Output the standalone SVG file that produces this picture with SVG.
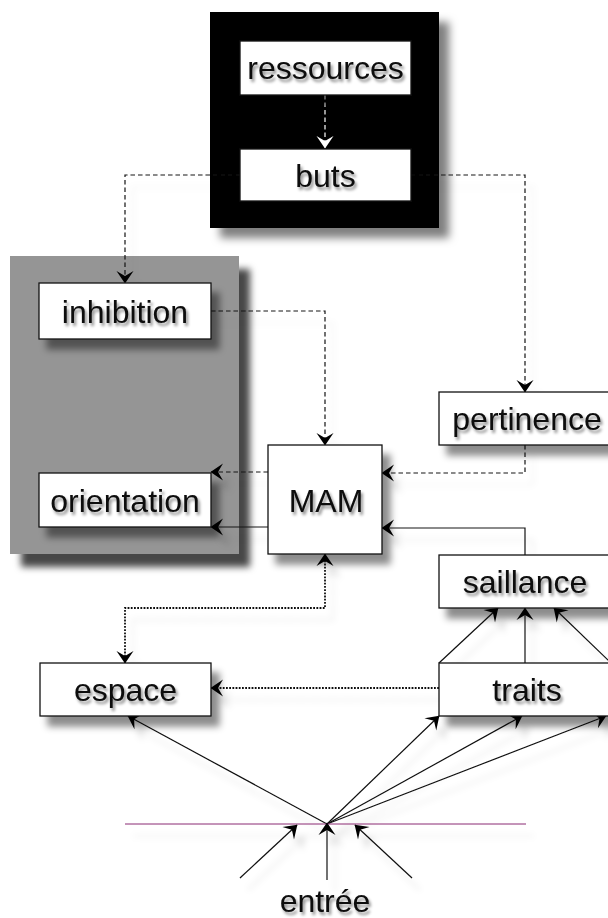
<svg xmlns="http://www.w3.org/2000/svg" width="608" height="918" viewBox="0 0 608 918">
<defs>
<style>
.box{fill:#fff;stroke:#111;stroke-width:1.3;filter:url(#sh)}
.lbl{font-family:"Liberation Sans",Arial,sans-serif;font-size:32px;fill:#0a0a0a;text-anchor:middle;filter:url(#tsh)}
.c{fill:none;stroke:#111;stroke-width:1.2}
.dash{stroke-dasharray:4.5 3}
.dot{stroke-dasharray:1.8 1.4;stroke-width:1.8}
</style>
<filter id="sh" x="-20%" y="-20%" width="150%" height="160%">
<feDropShadow dx="8" dy="10" stdDeviation="3.5" flood-color="#000" flood-opacity="0.45"/>
</filter>
<filter id="csh" x="-20%" y="-20%" width="150%" height="150%">
<feDropShadow dx="10" dy="10" stdDeviation="4" flood-color="#000" flood-opacity="0.5"/>
</filter>
<filter id="gsh" x="-20%" y="-20%" width="150%" height="150%">
<feDropShadow dx="11" dy="13" stdDeviation="3.5" flood-color="#000" flood-opacity="0.72"/>
</filter>
<filter id="lsh" x="-10%" y="-10%" width="130%" height="130%">
<feDropShadow dx="8" dy="12" stdDeviation="3" flood-color="#000" flood-opacity="0.12"/>
</filter>
<filter id="tsh" x="-10%" y="-20%" width="130%" height="160%">
<feDropShadow dx="2" dy="3" stdDeviation="1.5" flood-color="#000" flood-opacity="0.45"/>
</filter>
<marker id="ah" viewBox="-14 -10 15 20" refX="0" refY="0" markerWidth="15" markerHeight="20" markerUnits="userSpaceOnUse" orient="auto-start-reverse">
<path d="M0.5,0 L-12,-8.5 L-7,0 L-12,8.5 Z" fill="#000"/>
</marker>
<marker id="ahw" viewBox="-14 -10 15 20" refX="0" refY="0" markerWidth="15" markerHeight="20" markerUnits="userSpaceOnUse" orient="auto">
<path d="M0.5,0 L-12,-8.5 L-7,0 L-12,8.5 Z" fill="#fff"/>
</marker>
</defs>
<rect width="608" height="918" fill="#fff"/>
<g id="container-top">
<rect x="210" y="12" width="229" height="216" fill="#000" filter="url(#csh)"/>
</g>
<g id="container-left">
<rect x="10" y="256" width="229" height="298" fill="#959595" filter="url(#gsh)"/>
</g>
<g id="connectors" filter="url(#lsh)">
<path class="c dash" d="M325,95 V148" style="stroke:#fff" marker-end="url(#ahw)"/>
<path class="c dash" d="M240,175 H125 V283" marker-end="url(#ah)"/>
<path class="c dash" d="M411,175 H525 V392" marker-end="url(#ah)"/>
<path class="c dash" d="M211,311 H325 V445" marker-end="url(#ah)"/>
<path class="c dash" d="M268,472 H211" marker-end="url(#ah)"/>
<path class="c" d="M268,527 H211" marker-end="url(#ah)"/>
<path class="c dash" d="M525,445 V473 H382" marker-end="url(#ah)"/>
<path class="c" d="M525,555 V528 H382" marker-end="url(#ah)"/>
<path class="c dot" d="M125,663 V608 H325 V554" marker-start="url(#ah)" marker-end="url(#ah)"/>
<path class="c dot" d="M439,688 H211" marker-end="url(#ah)"/>
<path class="c" d="M439,663 L498,608" marker-end="url(#ah)"/>
<path class="c" d="M525,663 V608" marker-end="url(#ah)"/>
<path class="c" d="M611,663 L554,608" marker-end="url(#ah)"/>
<path class="c" d="M327,824 L128,716" marker-end="url(#ah)"/>
<path class="c" d="M327,824 L439,716" marker-end="url(#ah)"/>
<path class="c" d="M327,824 L522,716" marker-end="url(#ah)"/>
<path class="c" d="M327,824 L606,716" marker-end="url(#ah)"/>
<path d="M125,824 H526" fill="none" stroke="#8a2d73" stroke-width="1"/>
<path class="c" d="M240,878 L297,825" marker-end="url(#ah)"/>
<path class="c" d="M327,880 V823" marker-end="url(#ah)"/>
<path class="c" d="M412,878 L355,825" marker-end="url(#ah)"/>
</g>
<g id="ressources"><rect class="box" x="240" y="41" width="171" height="54"/><text class="lbl" x="325.5" y="79">ressources</text></g>
<g id="buts"><rect class="box" x="240" y="149" width="171" height="52"/><text class="lbl" x="325.5" y="187">buts</text></g>
<g id="inhibition"><rect class="box" x="39" y="283" width="172" height="56"/><text class="lbl" x="125" y="323">inhibition</text></g>
<g id="orientation"><rect class="box" x="39" y="473" width="172" height="54"/><text class="lbl" x="125" y="512">orientation</text></g>
<g id="MAM"><rect class="box" x="268" y="445" width="114" height="109"/><text class="lbl" x="326" y="512">MAM</text></g>
<g id="pertinence"><rect class="box" x="439" y="392" width="173" height="53"/><text class="lbl" x="527" y="430">pertinence</text></g>
<g id="saillance"><rect class="box" x="439" y="555" width="173" height="53"/><text class="lbl" x="525" y="593">saillance</text></g>
<g id="espace"><rect class="box" x="40" y="663" width="171" height="53"/><text class="lbl" x="125.5" y="701">espace</text></g>
<g id="traits"><rect class="box" x="439" y="663" width="173" height="53"/><text class="lbl" x="527" y="701">traits</text></g>
<g id="entree"><text class="lbl" x="325" y="912">entrée</text></g>
</svg>
